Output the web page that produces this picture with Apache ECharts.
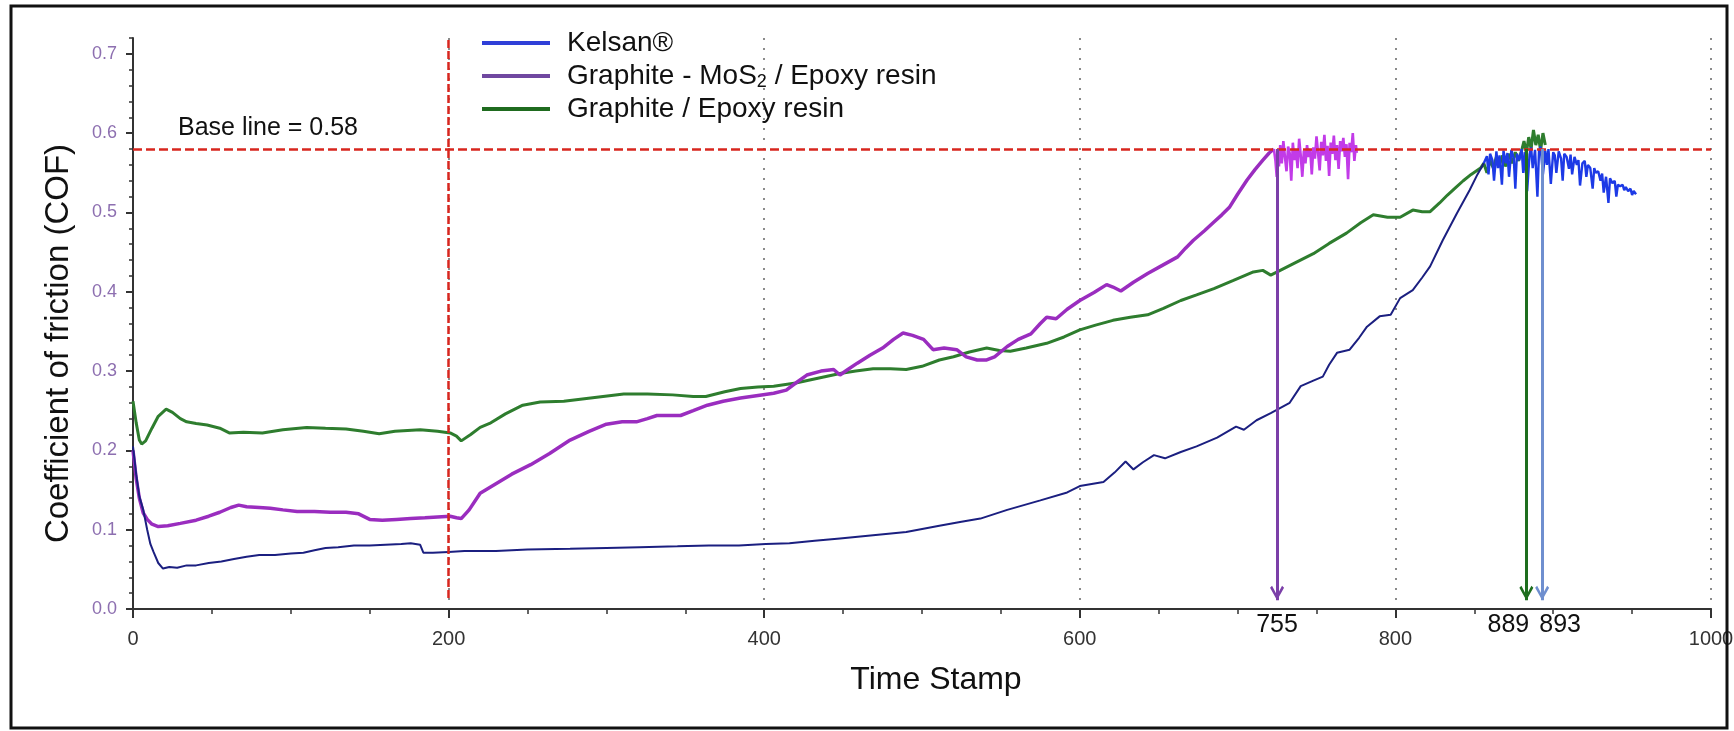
<!DOCTYPE html>
<html>
<head>
<meta charset="utf-8">
<title>Coefficient of friction vs time stamp</title>
<script src="https://cdn.jsdelivr.net/npm/echarts@6/dist/echarts.min.js"></script>
<style>
html, body { margin: 0; padding: 0; background: #fff; }
#main { width: 1734px; height: 731px; }
</style>
</head>
<body>
<div id="main"></div>
<script>
// values: [time stamp, COF]
var kelsan = [
    [0, 0.205], [2, 0.17], [4, 0.142], [6.5, 0.125], [9, 0.1], [11, 0.082], [13, 0.072], [16, 0.058],
    [19, 0.051], [23, 0.053], [28, 0.052], [34, 0.055], [40, 0.055], [48, 0.058], [56, 0.06], [64, 0.063],
    [72, 0.066], [80, 0.068], [90, 0.068], [100, 0.07], [108, 0.071], [115, 0.074], [122, 0.077], [130, 0.078],
    [140, 0.08], [150, 0.08], [160, 0.081], [170, 0.082], [176, 0.083], [182, 0.081], [184, 0.071], [190, 0.071],
    [200, 0.072], [210, 0.073], [230, 0.073], [250, 0.075], [277, 0.076], [300, 0.077], [321, 0.078], [345, 0.079],
    [365, 0.08], [384, 0.08], [401, 0.082], [416, 0.083], [432, 0.086], [448, 0.089], [469, 0.093], [490, 0.097],
    [511, 0.105], [525, 0.11], [537, 0.114], [554, 0.125], [575, 0.137], [592, 0.147], [600, 0.155], [615, 0.16],
    [622, 0.172], [629, 0.186], [634, 0.176], [640, 0.185], [647, 0.194], [654, 0.19], [664, 0.198], [674, 0.205],
    [687, 0.216], [699, 0.23], [704, 0.226], [712, 0.238], [721, 0.247], [733, 0.26], [740, 0.281], [748, 0.288],
    [754, 0.293], [758, 0.308], [763, 0.323], [771, 0.327], [777, 0.342], [782, 0.356], [790, 0.369], [797, 0.371],
    [803, 0.392], [811, 0.402], [817, 0.418], [822, 0.432], [830, 0.465], [839, 0.499], [847, 0.528], [852, 0.548],
    [856, 0.562], [858, 0.571], [859, 0.548], [860, 0.574], [861.5, 0.566], [862.5, 0.54], [864, 0.577], [865, 0.556],
    [866, 0.572], [867.5, 0.535], [868.5, 0.578], [870, 0.562], [871, 0.575], [872, 0.545], [873.5, 0.579], [875, 0.568],
    [876, 0.53], [877, 0.574], [878.5, 0.566], [880, 0.58], [881, 0.55], [882, 0.576], [883.5, 0.527], [885, 0.573],
    [886, 0.582], [887, 0.556], [888.5, 0.579], [890, 0.52], [891, 0.577], [892, 0.583], [893.5, 0.548], [895, 0.578],
    [896, 0.56], [897, 0.58], [898.5, 0.536], [900, 0.576], [901, 0.572], [902, 0.55], [903.5, 0.577], [905, 0.568],
    [906, 0.54], [907, 0.574], [908.5, 0.57], [910, 0.555], [911, 0.573], [912, 0.548], [913.5, 0.57], [915, 0.56],
    [916, 0.566], [917, 0.534], [918.5, 0.562], [920, 0.565], [921, 0.545], [922, 0.56], [923.5, 0.556], [925, 0.53],
    [926, 0.556], [927, 0.55], [928.5, 0.552], [930, 0.54], [931, 0.549], [932, 0.525], [933.5, 0.545], [935, 0.512],
    [936, 0.543], [937.5, 0.537], [939, 0.54], [940, 0.52], [941, 0.535], [942.5, 0.533], [944, 0.535], [945, 0.528],
    [946, 0.532], [947.5, 0.527], [949, 0.53], [950, 0.522], [951, 0.527], [952.5, 0.523]
];

var graphiteMoS2 = [
    [0, 0.2], [2, 0.165], [4, 0.14], [6.5, 0.121], [9, 0.113], [12, 0.107], [16, 0.104], [22, 0.105],
    [30, 0.108], [40, 0.112], [48, 0.117], [55, 0.122], [62, 0.128], [67, 0.131], [72, 0.129], [80, 0.128],
    [87, 0.127], [95, 0.125], [104, 0.123], [115, 0.123], [125, 0.122], [135, 0.122], [143, 0.12], [150, 0.113],
    [158, 0.112], [167, 0.113], [176, 0.114], [185, 0.115], [193, 0.116], [201, 0.117], [205, 0.115], [208, 0.114],
    [213, 0.125], [220, 0.146], [230, 0.158], [240, 0.17], [252, 0.182], [264, 0.196], [277, 0.213], [289, 0.224],
    [300, 0.233], [310, 0.236], [319, 0.236], [326, 0.24], [332, 0.244], [340, 0.244], [347, 0.244], [355, 0.25],
    [364, 0.257], [374, 0.262], [385, 0.266], [395, 0.269], [406, 0.272], [414, 0.276], [420, 0.285], [427, 0.295],
    [436, 0.3], [444, 0.302], [448, 0.295], [453, 0.302], [459, 0.31], [467, 0.32], [475, 0.329], [482, 0.34],
    [488, 0.348], [494, 0.345], [501, 0.34], [507, 0.327], [514, 0.329], [522, 0.327], [528, 0.318], [535, 0.314],
    [541, 0.314], [546, 0.318], [554, 0.331], [561, 0.34], [569, 0.347], [575, 0.36], [579, 0.368], [585, 0.366],
    [592, 0.378], [600, 0.389], [609, 0.399], [617, 0.409], [621, 0.406], [626, 0.401], [634, 0.412], [643, 0.423],
    [652, 0.433], [662, 0.444], [667, 0.455], [672, 0.465], [679, 0.477], [685, 0.488], [690, 0.497], [695, 0.507],
    [700, 0.523], [706, 0.541], [711, 0.554], [716, 0.566], [720, 0.575], [723, 0.58], [724, 0.565], [724.8, 0.545],
    [725.5, 0.578], [726.2, 0.558], [727, 0.585], [728, 0.562], [729, 0.59], [730, 0.57], [731, 0.552], [732, 0.583],
    [733, 0.575], [734, 0.54], [735, 0.588], [736, 0.566], [737, 0.58], [738, 0.556], [739, 0.593], [740, 0.572],
    [741, 0.545], [742, 0.578], [743, 0.562], [744, 0.585], [745, 0.57], [746, 0.58], [747, 0.548], [748, 0.582],
    [749, 0.568], [750, 0.596], [751, 0.575], [752, 0.553], [753, 0.589], [754, 0.572], [755, 0.598], [756, 0.565],
    [757, 0.584], [758, 0.546], [759, 0.588], [760, 0.574], [761, 0.597], [762, 0.566], [763, 0.585], [764, 0.555],
    [765, 0.59], [766, 0.577], [767, 0.594], [768, 0.57], [769, 0.586], [770, 0.542], [771, 0.588], [772, 0.576],
    [773, 0.6], [774, 0.565], [775, 0.585], [775.5, 0.575]
];

var graphite = [
    [0, 0.262], [2, 0.235], [4, 0.213], [5.5, 0.208], [8, 0.212], [12, 0.228], [16, 0.243], [21, 0.252],
    [25, 0.248], [30, 0.24], [34, 0.236], [40, 0.234], [47, 0.232], [55, 0.228], [61, 0.222], [70, 0.223],
    [82, 0.222], [95, 0.226], [110, 0.229], [122, 0.228], [135, 0.227], [146, 0.224], [156, 0.221], [166, 0.224],
    [182, 0.226], [193, 0.224], [201, 0.222], [205, 0.218], [208, 0.212], [214, 0.22], [220, 0.229], [226, 0.234],
    [236, 0.246], [247, 0.257], [258, 0.261], [273, 0.262], [290, 0.266], [311, 0.271], [326, 0.271], [342, 0.27],
    [355, 0.268], [363, 0.268], [375, 0.274], [385, 0.278], [396, 0.28], [406, 0.281], [420, 0.285], [434, 0.291],
    [448, 0.297], [458, 0.3], [469, 0.303], [480, 0.303], [490, 0.302], [500, 0.306], [511, 0.314], [520, 0.318],
    [530, 0.324], [541, 0.329], [549, 0.326], [556, 0.325], [566, 0.329], [579, 0.335], [590, 0.343], [600, 0.352],
    [610, 0.358], [621, 0.364], [632, 0.368], [643, 0.371], [653, 0.379], [664, 0.389], [674, 0.396], [685, 0.404],
    [697, 0.414], [710, 0.425], [716, 0.427], [721, 0.421], [727, 0.427], [737, 0.437], [748, 0.448], [758, 0.461],
    [769, 0.474], [778, 0.487], [786, 0.497], [795, 0.494], [803, 0.494], [811, 0.503], [817, 0.501], [822, 0.501],
    [828, 0.512], [833, 0.522], [838, 0.531], [843, 0.54], [848, 0.548], [854, 0.556], [856, 0.562], [858, 0.55],
    [860, 0.566], [862, 0.556], [864, 0.57], [866, 0.56], [868, 0.572], [870, 0.558], [872, 0.574], [874, 0.562],
    [876, 0.576], [878, 0.565], [880, 0.578], [881.5, 0.59], [883, 0.575], [884.5, 0.595], [886, 0.58], [887.5, 0.604],
    [889, 0.585], [890.5, 0.598], [892, 0.578], [893.5, 0.6], [895, 0.585]
];

var seriesNames = ['Kelsan®', 'Graphite - MoS2 / Epoxy resin', 'Graphite / Epoxy resin'];
var xTicks = [0, 200, 400, 600, 800, 1000];
var yTicks = [0, 0.1, 0.2, 0.3, 0.4, 0.5, 0.6, 0.7];
var baseLine = 0.58;
var changeTime = 200;
// arrows: where each curve reaches the base line, and the numbers written under them
var arrowTimes = [725, 883, 893];
var arrowLabels = ['755', '889', '893'];
// time from which the curves turn noisy (drawn in a brighter shade)
var kelsanNoisyFrom = 856;
var mos2NoisyFrom = 723;

var legendColors = ['#2f3fd8', '#7048a0', '#1f6b1f'];
var arrowColors = ['#7b3fa8', '#1e6e1e', '#6f8fcf'];
var arrowPads = [[0, 0, 0, 0], [0, 36, 0, 0], [0, 0, 0, 36]];
var red = '#d8261e';
// open "V" arrow head, tip in the middle of the box
var chevron = 'path://M7,14.5 L14,27 L12,29 L7,19.5 L2,29 L0,27 Z M6.9,0 L7.1,0 L7,0.2 Z';

function before(data, t) { return data.filter(function (p) { return p[0] <= t; }); }
function after(data, t) { return data.filter(function (p) { return p[0] >= t; }); }

var markData = [
    {
        yAxis: baseLine,
        lineStyle: { color: red, width: 2.5, type: [9, 4] },
        label: {
            show: true, position: 'insideStartTop', distance: [45, 8],
            formatter: 'Base line = ' + baseLine, color: '#111', fontSize: 25
        }
    },
    [
        { coord: [changeTime, 0.014], lineStyle: { color: red, width: 2.5, type: [8, 3] } },
        { coord: [changeTime, 0.72] }
    ]
];
arrowTimes.forEach(function (t, i) {
    markData.push([
        {
            coord: [t, baseLine],
            lineStyle: { color: arrowColors[i], width: 3, type: 'solid' },
            label: {
                show: true, position: 'end', distance: 12, formatter: arrowLabels[i],
                color: '#111', fontSize: 25, padding: arrowPads[i]
            }
        },
        { coord: [t, 0.011], symbol: chevron, symbolSize: [14, 29] }
    ]);
});

var myChart = echarts.init(document.getElementById('main'));

var option = {
    animation: false,
    backgroundColor: '#fff',
    textStyle: { fontFamily: 'Liberation Sans, Arial, sans-serif' },
    grid: { left: 133, right: 23, top: 38, bottom: 122, outerBoundsMode: 'none' },
    legend: {
        orient: 'vertical',
        left: 482,
        top: 28,
        padding: 0,
        icon: 'rect',
        itemWidth: 68,
        itemHeight: 4,
        itemGap: 3,
        selectedMode: false,
        textStyle: {
            fontSize: 28, lineHeight: 30, color: '#111', padding: [0, 0, 0, 12],
            rich: { s: { fontSize: 18, lineHeight: 12, verticalAlign: 'bottom', color: '#111' } }
        },
        formatter: function (name) {
            return name.replace('MoS2', 'MoS{s|2}');
        },
        data: seriesNames.map(function (n, i) {
            return { name: n, itemStyle: { color: legendColors[i] } };
        })
    },
    xAxis: [
        {
            type: 'value', min: 0, max: 1000, interval: 50, position: 'bottom',
            axisLine: { lineStyle: { color: '#333', width: 2 } },
            axisTick: { length: 5, lineStyle: { color: '#333', width: 1.5 } },
            axisLabel: { show: false },
            splitLine: { show: false },
            name: 'Time Stamp', nameLocation: 'middle', nameGap: 55,
            nameTextStyle: { fontSize: 32, color: '#111', padding: [0, 0, 0, 28] }
        },
        {
            type: 'value', min: 0, max: 1000, interval: 200, position: 'bottom',
            axisLine: { show: false },
            axisTick: { length: 9, lineStyle: { color: '#333', width: 2 } },
            axisLabel: {
                margin: 20, fontSize: 20, color: '#333',
                customValues: xTicks,
                formatter: function (v) { return String(v); }
            },
            splitLine: { show: true, lineStyle: { color: '#666', width: 1.5, type: [2, 8] } }
        }
    ],
    yAxis: [
        {
            type: 'value', min: 0, max: 0.72, interval: 0.02, position: 'left',
            axisLine: { show: true, lineStyle: { color: '#333', width: 2 } },
            axisTick: { show: true, length: 4, lineStyle: { color: '#333', width: 1.5 } },
            axisLabel: { show: false },
            splitLine: { show: false },
            name: 'Coefficient of friction (COF)', nameLocation: 'middle', nameGap: 58,
            nameTextStyle: { fontSize: 33, color: '#111', padding: [0, 40, 0, 0] }
        },
        {
            type: 'value', min: 0, max: 0.72, interval: 0.1, position: 'left',
            axisLine: { show: false },
            axisTick: { show: true, length: 7, customValues: yTicks, lineStyle: { color: '#333', width: 2 } },
            axisLabel: {
                margin: 16, fontSize: 18, color: '#8d6fb0',
                customValues: yTicks,
                formatter: function (v) { return v.toFixed(1); }
            },
            splitLine: { show: false }
        }
    ],
    series: [
        {
            name: seriesNames[0], type: 'line', data: before(kelsan, kelsanNoisyFrom),
            symbol: 'none', z: 4, lineStyle: { width: 2, color: '#1b1f80' }
        },
        {
            name: seriesNames[0], type: 'line', data: after(kelsan, kelsanNoisyFrom),
            symbol: 'none', z: 4, lineStyle: { width: 2.4, color: '#1d3ae6' }
        },
        {
            name: seriesNames[1], type: 'line', data: before(graphiteMoS2, mos2NoisyFrom),
            symbol: 'none', z: 3, lineStyle: { width: 3.5, color: '#9a2dbf' }
        },
        {
            name: seriesNames[1], type: 'line', data: after(graphiteMoS2, mos2NoisyFrom),
            symbol: 'none', z: 3, lineStyle: { width: 2.6, color: '#c23be8' }
        },
        {
            name: seriesNames[2], type: 'line', data: graphite,
            symbol: 'none', z: 2, lineStyle: { width: 3, color: '#2e7d2e' }
        },
        {
            name: 'marks', type: 'line', data: [], z: 5,
            markLine: {
                silent: true,
                symbol: ['none', 'none'],
                label: { show: false },
                data: markData
            }
        }
    ],
    graphic: [
        {
            type: 'rect', silent: true, z: 100,
            shape: { x: 11, y: 6, width: 1716, height: 722 },
            style: { fill: 'none', stroke: '#111', lineWidth: 3 }
        }
    ]
};

myChart.setOption(option);
</script>
</body>
</html>
